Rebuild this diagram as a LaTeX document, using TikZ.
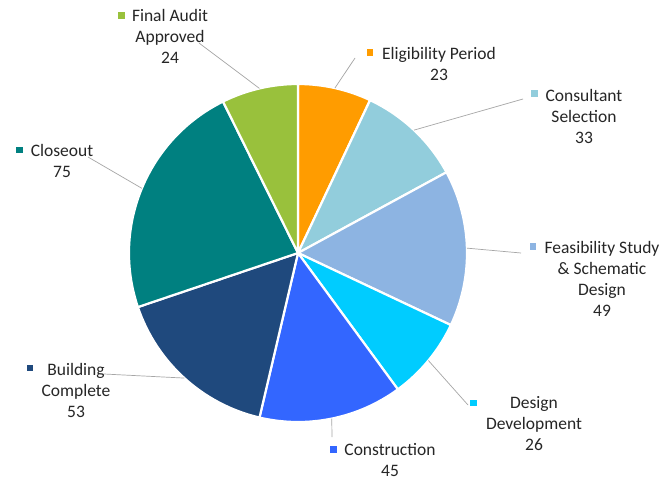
\documentclass[tikz,border=0pt]{standalone}
\usepackage{fontspec}
\usetikzlibrary{calc}
\setmainfont{Carlito}
\definecolor{celig}{HTML}{FF9C00}
\definecolor{ccons}{HTML}{92CDDC}
\definecolor{cfeas}{HTML}{8DB4E2}
\definecolor{cdes}{HTML}{00CCFF}
\definecolor{cconstr}{HTML}{3366FF}
\definecolor{cbuild}{HTML}{1F497D}
\definecolor{cclose}{HTML}{008080}
\definecolor{cfinal}{HTML}{99C13C}
\definecolor{cleader}{HTML}{A6A6A6}
\definecolor{ctext}{HTML}{262626}
\begin{document}
\begin{tikzpicture}[x=1pt,y=-1pt,
  slice/.style={draw=white, line width=2.2pt, line join=round},
  lbl/.style={align=center, inner sep=0pt, anchor=base, text=ctext,
    font=\fontsize{17.5}{21}\selectfont},
  key/.style={minimum size=6.5pt, inner sep=0pt, draw=none},
  leader/.style={draw=cleader, line width=0.7pt}]
\useasboundingbox (0,0) rectangle (671,479);
\fill[white] (0,0) rectangle (671,479);
\coordinate (c) at (298,253);
\def\R{169}
% slices
\filldraw[fill=celig, slice] (c) -- ++(-90:\R) arc[start angle=-90, end angle=-64.756, radius=\R] -- cycle;
\filldraw[fill=ccons, slice] (c) -- ++(-64.756:\R) arc[start angle=-64.756, end angle=-28.537, radius=\R] -- cycle;
\filldraw[fill=cfeas, slice] (c) -- ++(-28.537:\R) arc[start angle=-28.537, end angle=25.244, radius=\R] -- cycle;
\filldraw[fill=cdes, slice] (c) -- ++(25.244:\R) arc[start angle=25.244, end angle=53.780, radius=\R] -- cycle;
\filldraw[fill=cconstr, slice] (c) -- ++(53.780:\R) arc[start angle=53.780, end angle=103.171, radius=\R] -- cycle;
\filldraw[fill=cbuild, slice] (c) -- ++(103.171:\R) arc[start angle=103.171, end angle=161.341, radius=\R] -- cycle;
\filldraw[fill=cclose, slice] (c) -- ++(161.341:\R) arc[start angle=161.341, end angle=243.659, radius=\R] -- cycle;
\filldraw[fill=cfinal, slice] (c) -- ++(243.659:\R) arc[start angle=243.659, end angle=270, radius=\R] -- cycle;
% leader anchor points on the pie
\coordinate (eElig) at ($(c)+(-77.38:\R)$);
\coordinate (eCons) at ($(c)+(-46.65:\R)$);
\coordinate (eFeas) at ($(c)+(-1.65:\R)$);
\coordinate (eDes) at ($(c)+(39.51:\R)$);
\coordinate (eConstr) at ($(c)+(78.48:\R)$);
\coordinate (eBuild) at ($(c)+(132.26:\R)$);
\coordinate (eClose) at ($(c)+(202.5:\R)$);
\coordinate (eFinal) at ($(c)+(256.83:\R)$);
% label ends of leaders
\coordinate (aElig) at (355,58);
\coordinate (aCons) at (523,99);
\coordinate (aFeas) at (521,253);
\coordinate (aDes) at (468,405);
\coordinate (aConstr) at (332,437);
\coordinate (aBuild) at (104,374);
\coordinate (aClose) at (88,157);
\coordinate (aFinal) at (199,43);
% leaders
\draw[leader] (eElig) -- (aElig);
\draw[leader] (eCons) -- (aCons);
\draw[leader] (eFeas) -- (aFeas);
\draw[leader] (eDes) -- (aDes);
\draw[leader] (eConstr) -- (aConstr);
\draw[leader] (eBuild) -- (aBuild);
\draw[leader] (eClose) -- (aClose);
\draw[leader] (eFinal) -- (aFinal);
% labels (anchor = baseline of last line)
\node[lbl] (tFinal) at (170,63) {Final Audit\\Approved\\24};
\node[key, fill=cfinal] (kFinal) at (121.5,15.5) {};
\node[lbl] (tElig) at (439,80) {Eligibility Period\\23};
\node[key, fill=celig] (kElig) at (370,52.5) {};
\node[lbl] (tCons) at (584,143) {Consultant\\Selection\\33};
\node[key, fill=ccons] (kCons) at (534.5,93.5) {};
\node[lbl] (tFeas) at (602,316) {Feasibility Study\\\& Schematic\\Design\\49};
\node[key, fill=cfeas] (kFeas) at (533,246.5) {};
\node[lbl] (tDes) at (534,450) {Design\\Development\\26};
\node[key, fill=cdes] (kDes) at (473.5,403) {};
\node[lbl] (tConstr) at (390,476) {Construction\\45};
\node[key, fill=cconstr] (kConstr) at (333.5,449.5) {};
\node[lbl] (tBuild) at (76,417) {Building\\Complete\\53};
\node[key, fill=cbuild] (kBuild) at (30,368) {};
\node[lbl] (tClose) at (62,177) {Closeout\\75};
\node[key, fill=cclose] (kClose) at (19.5,150) {};
\end{tikzpicture}
\end{document}
